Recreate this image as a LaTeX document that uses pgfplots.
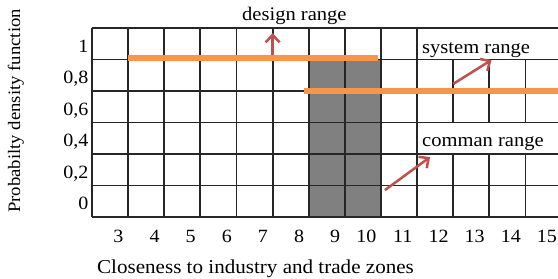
\documentclass[border=0pt]{standalone}
\usepackage{fontspec}
\setmainfont{Liberation Serif}[FakeStretch=1.07]
\usepackage{pgfplots}
\pgfplotsset{compat=1.18}
\usetikzlibrary{arrows.meta}
\definecolor{gridc}{HTML}{262626}
\definecolor{orng}{HTML}{F79646}
\definecolor{arr}{HTML}{C0504D}
\definecolor{shade}{HTML}{808080}
\begin{document}
\begin{tikzpicture}
\begin{axis}[
  at={(0,0)}, anchor=south west,
  scale only axis, width=466pt, height=189pt,
  xmin=2.5, xmax=15.4, ymin=-0.1, ymax=1.1,
  clip=false,
  axis line style={draw=none},
  major tick length=0pt,
  /pgf/number format/assume math mode=true,
  xtick={3.375,4.375,5.375,6.375,7.375,8.375,9.375,10.375,11.375,12.375,13.375,14.375,15.375},
  xticklabels={3,4,5,6,7,8,9,10,11,12,13,14,15},
  xticklabel style={anchor=base east, yshift=-25pt, inner sep=0pt, font=\fontsize{18.7}{21}\selectfont},
  ytick={0,0.2,0.4,0.6,0.8,1},
  yticklabels={0,{0,2},{0,4},{0,6},{0,8},1},
  yticklabel style={anchor=base east, yshift=-8.5pt, xshift=-3.5pt, inner sep=0pt, font=\fontsize{18.7}{21}\selectfont},
  xlabel={Closeness to industry and trade zones},
  xlabel style={at={(axis description cs:0.0107,-0.2963)}, anchor=base west, inner sep=0pt, font=\fontsize{19.7}{22}\selectfont},
  ylabel={Probabilty density function},
  ylabel style={at={(axis description cs:-0.1545,0.561)}, anchor=base, inner sep=0pt, rotate=0, font=\fontsize{17.5}{20}\selectfont},
]
% shaded range
\addplot[fill=shade, draw=none] coordinates {(8.5,-0.1) (10.5,-0.1) (10.5,0.9) (8.5,0.9) (8.5,-0.1)};
% horizontal grid lines
\draw[gridc, line width=1.8pt] (2.5,-0.1) -- (15.4,-0.1);
\draw[gridc, line width=1.8pt] (2.5,0.1) -- (15.4,0.1);
\draw[gridc, line width=1.8pt] (2.5,0.3) -- (15.4,0.3);
\draw[gridc, line width=1.8pt] (2.5,0.5) -- (15.4,0.5);
\draw[gridc, line width=1.8pt] (2.5,0.7) -- (15.4,0.7);
\draw[gridc, line width=1.8pt] (2.5,0.9) -- (15.4,0.9);
\draw[gridc, line width=1.8pt] (2.5,1.1) -- (15.4,1.1);
% vertical grid lines
\draw[gridc, line width=1.8pt] (2.5,-0.1) -- (2.5,1.1);
\draw[gridc, line width=1.8pt] (3.5,-0.1) -- (3.5,1.1);
\draw[gridc, line width=1.8pt] (4.5,-0.1) -- (4.5,1.1);
\draw[gridc, line width=1.8pt] (5.5,-0.1) -- (5.5,1.1);
\draw[gridc, line width=1.8pt] (6.5,-0.1) -- (6.5,1.1);
\draw[gridc, line width=1.8pt] (7.5,-0.1) -- (7.5,1.1);
\draw[gridc, line width=1.8pt] (8.5,-0.1) -- (8.5,1.1);
\draw[gridc, line width=1.8pt] (9.5,-0.1) -- (9.5,1.1);
\draw[gridc, line width=1.8pt] (10.5,-0.1) -- (10.5,1.1);
\draw[gridc, line width=1.8pt] (11.5,-0.1) -- (11.5,1.1);
\draw[gridc, line width=1.8pt] (12.5,-0.1) -- (12.5,0.3);
\draw[gridc, line width=1.8pt] (13.5,-0.1) -- (13.5,0.3);
\draw[gridc, line width=1.8pt] (14.5,-0.1) -- (14.5,0.3);
\draw[gridc, line width=1.8pt] (12.5,0.5) -- (12.5,0.9);
\draw[gridc, line width=1.8pt] (13.5,0.5) -- (13.5,0.9);
\draw[gridc, line width=1.8pt] (14.5,0.5) -- (14.5,0.9);
% ranges
\addplot[orng, line width=6.5pt] coordinates {(3.5,0.91) (10.42,0.91)};
\addplot[orng, line width=6.5pt] coordinates {(8.37,0.7) (15.4,0.7)};
% arrows
\draw[arr, line width=2.5pt, -{Straight Barb[length=7.5pt,width=14pt]}] (7.5,0.93) -- (7.5,1.068);
\draw[arr, line width=2.5pt, -{Straight Barb[length=7.5pt,width=14pt]}] (12.50,0.745) -- (13.56,0.897);
\draw[arr, line width=2.5pt, -{Straight Barb[length=7.5pt,width=14pt]}] (10.61,0.071) -- (11.86,0.281);
% labels
\node[anchor=base west, inner sep=0pt, font=\fontsize{19.2}{22}\selectfont] at (6.653,1.148) {design range};
\node[anchor=base west, inner sep=0pt, font=\fontsize{19.2}{22}\selectfont] at (11.636,0.939) {system range};
\node[anchor=base west, inner sep=0pt, font=\fontsize{19.2}{22}\selectfont] at (11.636,0.346) {comman range};
\end{axis}
\pgfresetboundingbox
\path[use as bounding box] (-92pt,-62pt) rectangle (466pt,217pt);
\end{tikzpicture}
\end{document}
